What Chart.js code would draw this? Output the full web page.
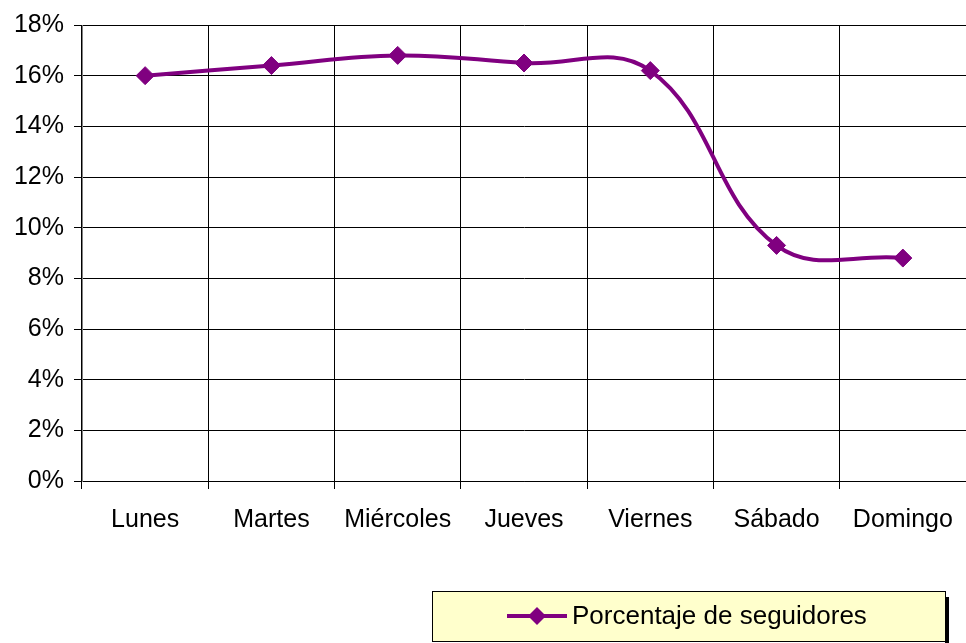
<!DOCTYPE html>
<html lang="es">
<head>
  <meta charset="UTF-8">
  <title>Porcentaje de seguidores</title>
  <script src="https://cdn.jsdelivr.net/npm/chart.js"></script>
  <style>
    html, body { margin: 0; padding: 0; background: #fff; }
    #wrap { width: 966px; height: 643px; position: relative; }
  </style>
</head>
<body>
  <div id="wrap"><canvas id="chart"></canvas></div>
  <script>
    // datos
    const dias = ["Lunes", "Martes", "Miércoles", "Jueves", "Viernes", "Sábado", "Domingo"];
    const porcentajes = [16.0, 16.4, 16.8, 16.5, 16.2, 9.3, 8.8];
    const serieNombre = "Porcentaje de seguidores";

    const morado = "#800080";
    const fuente = "'Liberation Sans', Arial, sans-serif";

    // leyenda con caja amarilla y sombra, como en Excel
    const cajaLeyenda = {
      id: "cajaLeyenda",
      afterDraw(chart) {
        const ctx = chart.ctx;
        const x = 432, y = 591, w = 513, h = 50;
        ctx.save();
        ctx.fillStyle = "#000";
        ctx.fillRect(x + w, y + 6, 4, h - 4);
        ctx.fillStyle = "#FFFFCC";
        ctx.fillRect(x, y, w, h);
        ctx.strokeStyle = "#000";
        ctx.lineWidth = 1;
        ctx.strokeRect(x + 0.5, y + 0.5, w, h);
        const cy = y + h / 2;
        ctx.strokeStyle = morado;
        ctx.lineWidth = 4;
        ctx.beginPath();
        ctx.moveTo(507, cy);
        ctx.lineTo(567, cy);
        ctx.stroke();
        ctx.fillStyle = morado;
        ctx.beginPath();
        ctx.moveTo(537, cy - 9);
        ctx.lineTo(546, cy);
        ctx.lineTo(537, cy + 9);
        ctx.lineTo(528, cy);
        ctx.closePath();
        ctx.fill();
        ctx.fillStyle = "#000";
        ctx.font = "26px " + fuente;
        ctx.textBaseline = "middle";
        ctx.fillText(chart.data.datasets[0].label, 572, cy + 1);
        ctx.restore();
      }
    };

    new Chart(document.getElementById("chart"), {
      type: "line",
      data: {
        labels: dias,
        datasets: [{
          label: serieNombre,
          data: porcentajes,
          borderColor: morado,
          backgroundColor: morado,
          borderWidth: 4,
          tension: 0.4,
          pointStyle: "rectRot",
          pointRadius: 9,
          pointHoverRadius: 9,
          pointBackgroundColor: morado,
          pointBorderColor: morado,
          pointBorderWidth: 1
        }]
      },
      options: {
        responsive: true,
        maintainAspectRatio: false,
        animation: false,
        layout: {
          autoPadding: false,
          padding: { top: 8, right: 0, left: 0, bottom: 0 }
        },
        plugins: {
          legend: { display: false },
          tooltip: { enabled: false }
        },
        scales: {
          x: {
            offset: true,
            grid: {
              offset: true,
              color: "#000",
              lineWidth: 1,
              tickLength: 8
            },
            border: { color: "#000" },
            ticks: {
              color: "#000",
              font: { family: fuente, size: 25 },
              padding: 16,
              maxRotation: 0,
              autoSkip: false
            },
            afterFit(scale) {
              scale.height = 162;
              scale.paddingLeft = 0;
              scale.paddingRight = 0;
            }
          },
          y: {
            min: 0,
            max: 18,
            grid: {
              color: "#000",
              lineWidth: 1,
              tickLength: 8
            },
            border: { color: "#808080" },
            ticks: {
              stepSize: 2,
              color: "#000",
              font: { family: fuente, size: 25 },
              padding: 10,
              callback: v => v + "%"
            },
            afterFit(scale) { scale.width = 82; }
          }
        }
      },
      plugins: [cajaLeyenda]
    });
  </script>
</body>
</html>
